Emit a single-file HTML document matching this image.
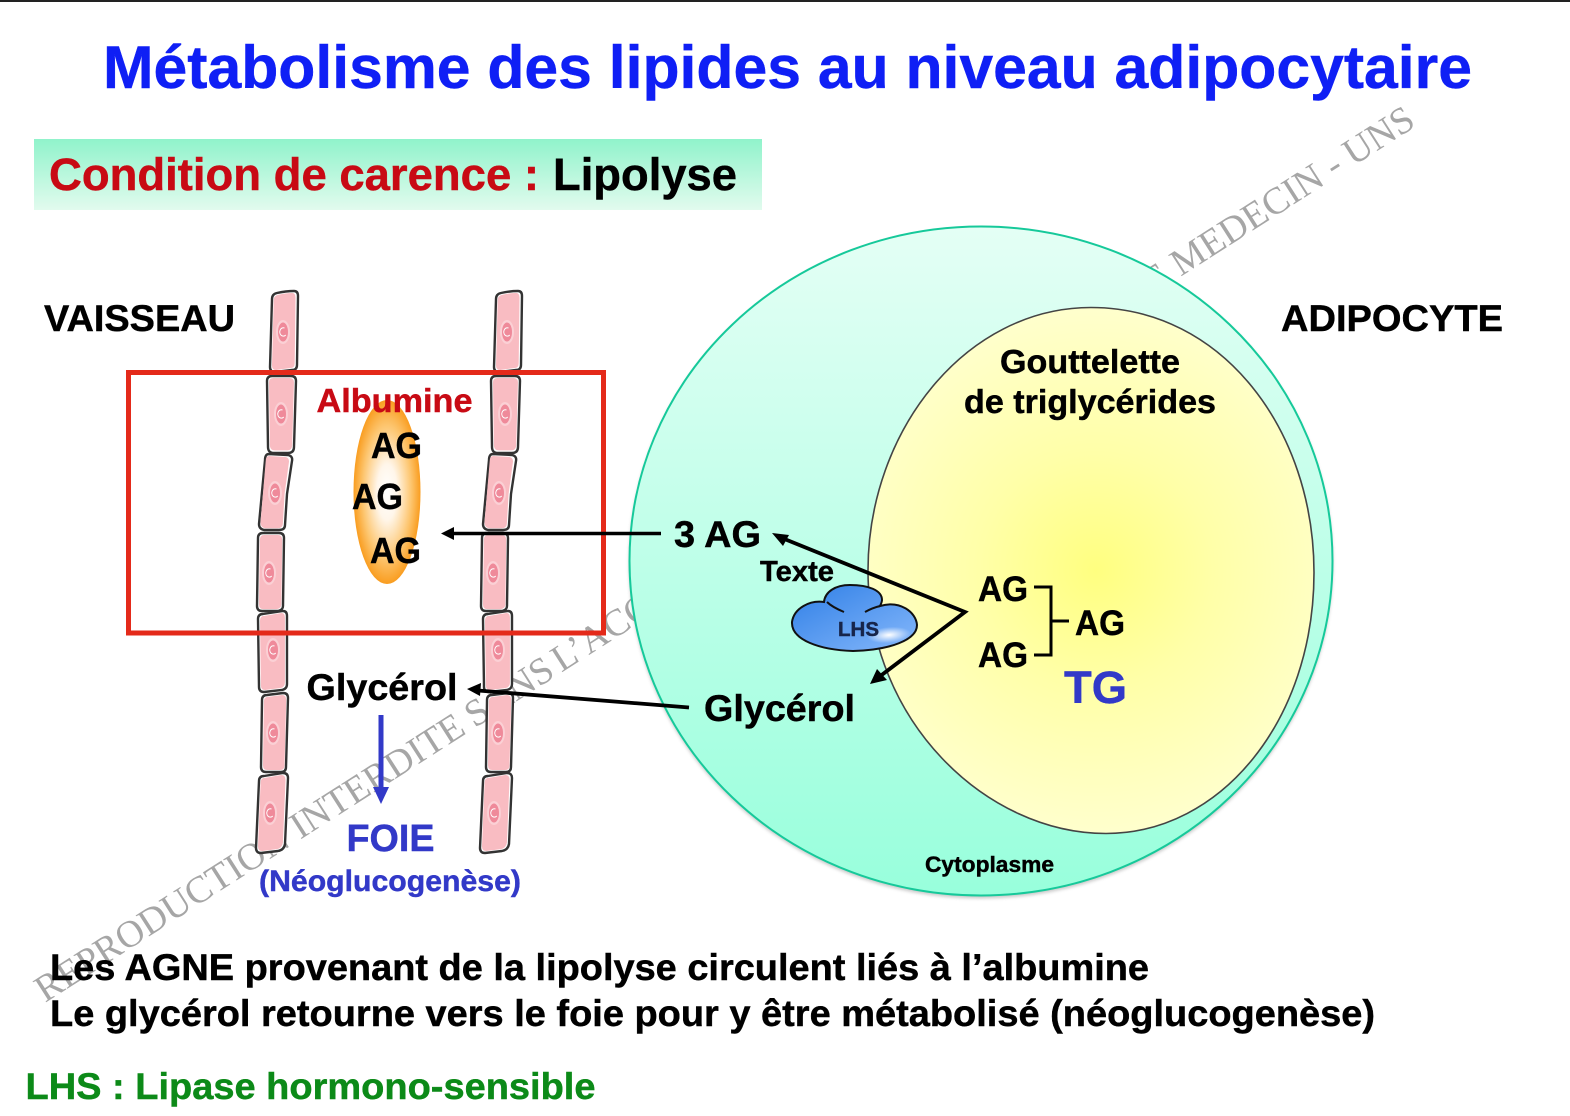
<!DOCTYPE html>
<html><head><meta charset="utf-8"><style>html,body{margin:0;padding:0;background:#fff}svg{display:block}text{font-family:"Liberation Sans",sans-serif;font-weight:bold;stroke-width:.45}.k{fill:#000;stroke:#000}.r{fill:#c80a14;stroke:#c80a14}.b{fill:#3239c8;stroke:#3239c8}</style></head><body>
<svg width="1570" height="1116" viewBox="0 0 1570 1116" xmlns="http://www.w3.org/2000/svg">
<defs>
<linearGradient id="gb" x1="0" y1="0" x2="0" y2="1"><stop offset="0" stop-color="#90f3cb"/><stop offset="1" stop-color="#e2fbee"/></linearGradient>
<linearGradient id="cy" x1="0" y1="0" x2="0" y2="1"><stop offset="0" stop-color="#e4fff5"/><stop offset="1" stop-color="#98ffdc"/></linearGradient>
<radialGradient id="dr" gradientUnits="userSpaceOnUse" cx="1095" cy="570" r="260"><stop offset="0" stop-color="#ffff80"/><stop offset="0.45" stop-color="#ffffa8"/><stop offset="1" stop-color="#ffffcc"/></radialGradient>
<radialGradient id="al"><stop offset="0" stop-color="#fff"/><stop offset="0.3" stop-color="#fff6ea"/><stop offset="0.72" stop-color="#fdc670"/><stop offset="1" stop-color="#f99d20"/></radialGradient>
<linearGradient id="lh" x1="0" y1="0" x2="1" y2="1"><stop offset="0" stop-color="#2f7fe6"/><stop offset="1" stop-color="#86b8fb"/></linearGradient>
<radialGradient id="gl"><stop offset="0" stop-color="#fff"/><stop offset="1" stop-color="#fff" stop-opacity="0"/></radialGradient>
<filter id="sh" x="-5%" y="-5%" width="110%" height="110%"><feGaussianBlur stdDeviation="1.500"/></filter>
<g id="n"><ellipse cx="0" cy="0" rx="7" ry="12" fill="#fbd0d5"/><ellipse cx="0" cy="0" rx="5" ry="9.500" fill="#ef8a9a"/><path d="M1.500 -4a3.500 4.200 0 1 0 1.200 7" fill="none" stroke="#fff" stroke-width="1"/></g>
<path id="p1" d="M2 8Q2 3 7 2Q16 0 24 0Q28 0 28 5L27 74Q27 79 22 79L5 81Q0 81 0 76Z"/>
<path id="p2" d="M5 0L24 0Q29 0 29 5L27 71Q27 77 21 77L7 77Q1 77 1 71L0 5Q0 0 5 0Z"/>
<path id="p3" d="M10 0L29 1Q34 2 33 7L28 40L26 71Q26 76 20 76L5 76Q0 75 0 70L6 6Q6 0 10 0Z"/>
<path id="p4" d="M6 0L22 0Q27 0 27 5L26 73Q26 77 21 78L5 78Q0 78 0 73L1 5Q1 0 6 0Z"/>
<path id="p5" d="M5 3L25 0Q29 0 29 5L29 73Q29 78 24 79L6 81Q1 81 1 76L0 8Q0 3 5 3Z"/>
<path id="p6" d="M6 2L22 0Q27 0 27 5L25 74Q25 79 20 79L5 79Q0 79 0 74L1 7Q1 2 6 2Z"/>
<path id="p7" d="M8 3L27 0Q32 0 32 5L29 71Q28 77 22 78L5 80Q0 80 0 75L3 8Q3 3 8 3Z"/>
<g id="c1"><use href="#p1" fill="#fff" stroke="#333" stroke-width="2.400"/><use href="#p1" fill="#f9bcc2" transform="translate(2,2) scale(.84,.95)"/><use href="#n" x="13" y="41"/></g>
<g id="c2"><use href="#p2" fill="#fff" stroke="#333" stroke-width="2.400"/><use href="#p2" fill="#f9bcc2" transform="translate(2,2) scale(.86,.94)"/><use href="#n" x="14" y="38"/></g>
<g id="c3"><use href="#p3" fill="#fff" stroke="#333" stroke-width="2.400"/><use href="#p3" fill="#f9bcc2" transform="translate(1.500,2) scale(.86,.95)"/><use href="#n" x="16" y="39"/></g>
<g id="c4"><use href="#p4" fill="#fff" stroke="#333" stroke-width="2.400"/><use href="#p4" fill="#f9bcc2" transform="translate(2,2) scale(.86,.95)"/><use href="#n" x="12" y="40"/></g>
<g id="c5"><use href="#p5" fill="#fff" stroke="#333" stroke-width="2.400"/><use href="#p5" fill="#f9bcc2" transform="translate(2,2) scale(.86,.95)"/><use href="#n" x="15" y="39"/></g>
<g id="c6"><use href="#p6" fill="#fff" stroke="#333" stroke-width="2.400"/><use href="#p6" fill="#f9bcc2" transform="translate(2,2) scale(.86,.95)"/><use href="#n" x="12" y="40"/></g>
<g id="c7"><use href="#p7" fill="#fff" stroke="#333" stroke-width="2.400"/><use href="#p7" fill="#f9bcc2" transform="translate(2,2) scale(.86,.95)"/><use href="#n" x="14" y="40"/></g>
</defs>
<rect width="1570" height="1116" fill="#fff"/>
<rect width="1570" height="2" fill="#222"/>
<text x="103" y="88" font-size="60" fill="#0f1ff5" stroke="#0f1ff5" textLength="1369" lengthAdjust="spacingAndGlyphs">Métabolisme des lipides au niveau adipocytaire</text>
<rect x="34" y="139" width="728" height="71" fill="url(#gb)"/>
<text class="r" x="49" y="190" font-size="45" textLength="490" lengthAdjust="spacingAndGlyphs">Condition de carence :</text>
<text class="k" x="553" y="190" font-size="45" textLength="184" lengthAdjust="spacingAndGlyphs">Lipolyse</text>
<text transform="translate(45,1003) rotate(-32.6)" style="font-family:'Liberation Serif',serif;font-weight:normal;stroke-width:0" font-size="38" fill="#a6a6a6"><tspan x="0" y="0">REPRODUCTION</tspan><tspan x="303" y="0">INTERDITE</tspan><tspan x="510" y="0">SANS</tspan><tspan x="613" y="0">L’ACCORD DE L’ENSEIGNANT</tspan><tspan x="1287" y="0">DE</tspan><tspan x="1348" y="0">MEDECIN - UNS</tspan></text>
<text class="k" x="44" y="331" font-size="37" textLength="191" lengthAdjust="spacingAndGlyphs">VAISSEAU</text>
<text class="k" x="1281" y="331" font-size="37" textLength="222" lengthAdjust="spacingAndGlyphs">ADIPOCYTE</text>
<g transform="translate(1,0.500)">
<ellipse cx="980" cy="563" rx="352" ry="335" fill="#888" opacity=".45" filter="url(#sh)"/>
<ellipse cx="980" cy="560.500" rx="351.500" ry="334.500" fill="url(#cy)" stroke="#16c99a" stroke-width="2"/>
<path d="M1090 307C1222 307 1313 430 1313 572C1313 720 1220 833 1105 833C985 833 867 720 867 570C867 430 965 307 1090 307Z" fill="url(#dr)" stroke="#444" stroke-width="1.600"/>
</g>
<use href="#c1" x="270" y="291"/><use href="#c2" x="267" y="376"/><use href="#c3" x="259" y="454"/><use href="#c4" x="257" y="533"/><use href="#c5" x="258" y="611"/><use href="#c6" x="261" y="693"/><use href="#c7" x="256" y="773"/>
<use href="#c1" x="494" y="291"/><use href="#c2" x="491" y="376"/><use href="#c3" x="483" y="454"/><use href="#c4" x="481" y="533"/><use href="#c5" x="483" y="611"/><use href="#c6" x="486" y="693"/><use href="#c7" x="480" y="773"/>
<rect x="128.500" y="372.500" width="475" height="260.500" fill="none" stroke="#e42a1a" stroke-width="5"/>
<ellipse cx="387" cy="492" rx="33.500" ry="92" fill="url(#al)"/>
<text class="r" x="316.500" y="412" font-size="33" textLength="156" lengthAdjust="spacingAndGlyphs">Albumine</text>
<text class="k" x="371" y="458" font-size="36" textLength="51" lengthAdjust="spacingAndGlyphs">AG</text>
<text class="k" x="352" y="509" font-size="36" textLength="51" lengthAdjust="spacingAndGlyphs">AG</text>
<text class="k" x="370" y="563" font-size="36" textLength="51" lengthAdjust="spacingAndGlyphs">AG</text>
<path d="M661 533.500H452" stroke="#000" stroke-width="3.500"/><path d="M441 533.500L454 527V540Z" fill="#000"/>
<text class="k" x="674" y="547" font-size="37" textLength="87" lengthAdjust="spacingAndGlyphs">3 AG</text>
<text class="k" x="760" y="581" font-size="29" textLength="74" lengthAdjust="spacingAndGlyphs">Texte</text>
<path d="M824 602C825 592 835 585 850 585C868 585 882 590 882 600C882 602 881 604 880 606C900 600 916 612 917 625C917 640 890 650 853 651C820 650 791 640 792 622C794 608 810 600 824 602Z" fill="url(#lh)" stroke="#111" stroke-width="2"/>
<path d="M827 602Q832 607 844 612M880 606Q872 608 865 612" fill="none" stroke="#111" stroke-width="2"/>
<ellipse cx="889" cy="635" rx="22" ry="8" fill="url(#gl)" transform="rotate(-5 889 635)"/>
<text x="838" y="636" font-size="20" fill="#17254a" stroke="#17254a" textLength="41" lengthAdjust="spacingAndGlyphs">LHS</text>
<path d="M782 538L965 612L879 677" fill="none" stroke="#000" stroke-width="3.800" stroke-linejoin="miter"/>
<path d="M772 533L789 535L783 546Z" fill="#000"/><path d="M870 684L877 669L887 680Z" fill="#000"/>
<text class="k" x="978" y="601" font-size="35" textLength="50" lengthAdjust="spacingAndGlyphs">AG</text>
<text class="k" x="978" y="667" font-size="35" textLength="50" lengthAdjust="spacingAndGlyphs">AG</text>
<text class="k" x="1075" y="635" font-size="35" textLength="50" lengthAdjust="spacingAndGlyphs">AG</text>
<path d="M1034 587H1051V655H1034M1051 621H1069" fill="none" stroke="#000" stroke-width="3"/>
<text class="b" x="1064" y="703" font-size="45" textLength="63" lengthAdjust="spacingAndGlyphs">TG</text>
<text class="k" x="1090" y="373" font-size="33" text-anchor="middle" textLength="180" lengthAdjust="spacingAndGlyphs">Gouttelette</text>
<text class="k" x="1090" y="413" font-size="33" text-anchor="middle" textLength="252" lengthAdjust="spacingAndGlyphs">de triglycérides</text>
<text class="k" x="925" y="872" font-size="22" textLength="129" lengthAdjust="spacingAndGlyphs">Cytoplasme</text>
<text class="k" x="704" y="721" font-size="37" textLength="151" lengthAdjust="spacingAndGlyphs">Glycérol</text>
<path d="M689 707.500L478 690.500" stroke="#000" stroke-width="3.800"/><path d="M467 689L481 683L480 696Z" fill="#000"/>
<text class="k" x="306.500" y="700" font-size="37" textLength="151" lengthAdjust="spacingAndGlyphs">Glycérol</text>
<path d="M381 715V790" stroke="#3239c8" stroke-width="5"/><path d="M373 787H389L381 804Z" fill="#3239c8"/>
<text class="b" x="346.500" y="851" font-size="38" textLength="88" lengthAdjust="spacingAndGlyphs">FOIE</text>
<text class="b" x="259" y="891" font-size="30" textLength="262" lengthAdjust="spacingAndGlyphs">(Néoglucogenèse)</text>
<text class="k" x="50" y="980" font-size="37" textLength="1099" lengthAdjust="spacingAndGlyphs">Les AGNE provenant de la lipolyse circulent liés à l’albumine</text>
<text class="k" x="50" y="1026" font-size="37" textLength="1325" lengthAdjust="spacingAndGlyphs">Le glycérol retourne vers le foie pour y être métabolisé (néoglucogenèse)</text>
<text x="25.500" y="1099" font-size="37" fill="#0c8a18" stroke="#0c8a18" textLength="570" lengthAdjust="spacingAndGlyphs">LHS : Lipase hormono-sensible</text>
</svg>
</body></html>
